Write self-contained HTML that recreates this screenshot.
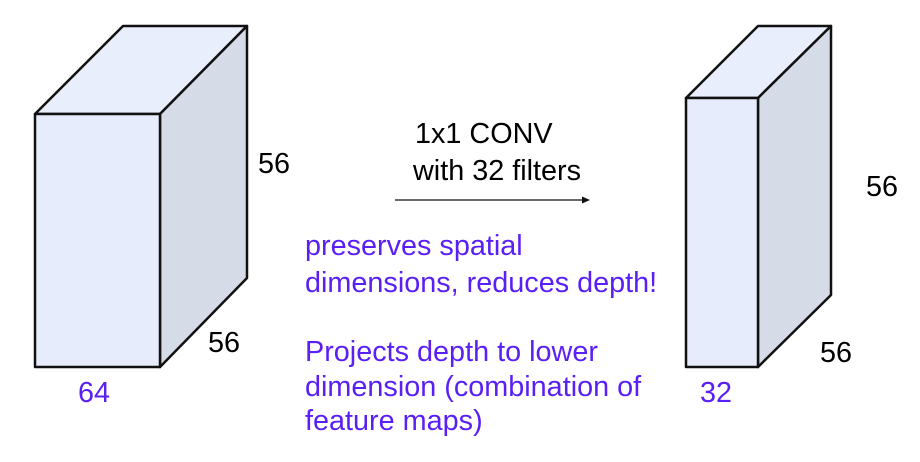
<!DOCTYPE html>
<html><head><meta charset="utf-8"><style>
body{margin:0;background:#fff;width:920px;height:457px;overflow:hidden}
svg text{font-family:"Liberation Sans",Arial,sans-serif;font-size:28.8px}
.p{fill:#5a1ff5}
</style></head><body>
<svg width="920" height="457">
<g stroke="#111" stroke-width="2.5" stroke-linejoin="round">
<polygon points="35,114 123,26 247,26 160,114" fill="#e8eefb"/>
<polygon points="160,114 247,26 247,278 160,367" fill="#d5dce8"/>
<rect x="35" y="114" width="125" height="253" fill="#e6ecfb"/>
</g>
<g stroke="#111" stroke-width="2.5" stroke-linejoin="round">
<polygon points="686,98 758,26 831,26 758,98" fill="#e8eefb"/>
<polygon points="758,98 831,26 831,295 758,367" fill="#d5dce8"/>
<rect x="686" y="98" width="72" height="269" fill="#e6ecfb"/>
</g>
<text x="258" y="173">56</text>
<text x="208" y="352">56</text>
<text x="78" y="402" class="p">64</text>
<text x="866" y="196">56</text>
<text x="820" y="362">56</text>
<text x="700" y="402" class="p">32</text>
<text x="415" y="143">1x1 CONV</text>
<text x="413" y="180">with 32 filters</text>
<g>
<line x1="395" y1="200" x2="584" y2="200" stroke="#111" stroke-width="1.3"/>
<polygon points="590,200 582,196.5 582,203.5" fill="#111"/>
</g>
<text x="305" y="255" class="p">preserves spatial</text>
<text x="305" y="292" class="p">dimensions, reduces depth!</text>
<text x="305" y="361" class="p">Projects depth to lower</text>
<text x="305" y="396" class="p">dimension (combination of</text>
<text x="305" y="430" class="p">feature maps)</text>
</svg>
</body></html>
